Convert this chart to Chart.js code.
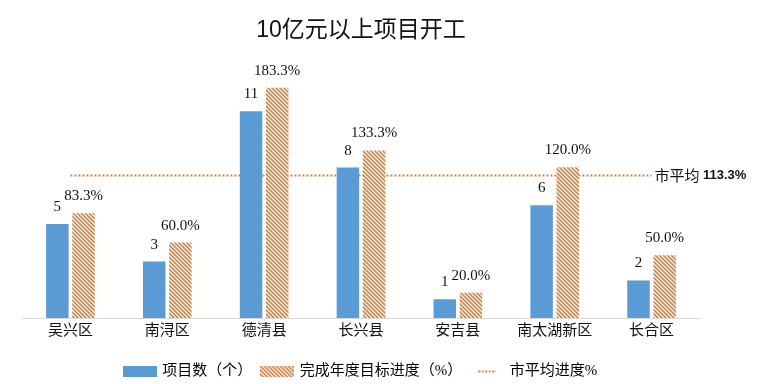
<!DOCTYPE html>
<html>
<head>
<meta charset="utf-8">
<script src="https://cdn.jsdelivr.net/npm/chart.js@4"></script>
<style>
  body { margin: 0; background: #fff; }
  #wrap { width: 768px; height: 384px; }
</style>
</head>
<body>
<div id="wrap"><canvas id="bar-chart"></canvas></div>
<script>
const categories = ["吴兴区", "南浔区", "德清县", "长兴县", "安吉县", "南太湖新区", "长合区"];
const projectCounts = [5, 3, 11, 8, 1, 6, 2];
const progressPct = [83.3, 60.0, 183.3, 133.3, 20.0, 120.0, 50.0];
const cityAverage = 113.3;

const BLUE = "#5B9BD5";
const ORANGE = "#D9823F";
const SERIF = "'Liberation Serif', 'Noto Sans CJK SC'";

// diagonal hatch, stripes running top-left to bottom-right
function makeHatch() {
  const c = document.createElement("canvas");
  c.width = 4; c.height = 4;
  const g = c.getContext("2d");
  g.fillStyle = "#fff";
  g.fillRect(0, 0, 4, 4);
  g.strokeStyle = ORANGE;
  g.lineWidth = 1.6;
  g.beginPath();
  g.moveTo(-1, -1); g.lineTo(5, 5);
  g.moveTo(-1, 3); g.lineTo(1, 5);
  g.moveTo(3, -1); g.lineTo(5, 1);
  g.stroke();
  return g.createPattern(c, "repeat");
}
const hatch = makeHatch();

function legendIcon(kind) {
  const c = document.createElement("canvas");
  c.width = 34; c.height = 11;
  const g = c.getContext("2d");
  if (kind === "bar") {
    g.fillStyle = BLUE;
    g.fillRect(0, 0, 34, 11);
  } else if (kind === "hatch") {
    g.fillStyle = hatch;
    g.fillRect(0, 0, 34, 11);
  } else {
    g.strokeStyle = ORANGE;
    g.lineWidth = 2;
    g.setLineDash([2, 1.5]);
    g.beginPath();
    g.moveTo(8, 5.5); g.lineTo(26, 5.5);
    g.stroke();
  }
  return c;
}

const valueLabels = {
  id: "valueLabels",
  afterDatasetsDraw(chart) {
    const ctx = chart.ctx;
    ctx.save();
    ctx.font = "15px " + SERIF;
    ctx.fillStyle = "#111";
    ctx.textAlign = "center";
    ctx.textBaseline = "middle";
    chart.getDatasetMeta(0).data.forEach((bar, i) => {
      ctx.fillText(String(projectCounts[i]), bar.x, bar.y - 17);
    });
    chart.getDatasetMeta(1).data.forEach((bar, i) => {
      ctx.fillText(progressPct[i].toFixed(1) + "%", bar.x, bar.y - 17);
    });
    const pts = chart.getDatasetMeta(2).data;
    const last = pts[pts.length - 1];
    ctx.textAlign = "left";
    ctx.font = "15px 'Noto Sans CJK SC'";
    const lead = "市平均 ";
    ctx.fillText(lead, last.x + 3, last.y);
    const w = ctx.measureText(lead).width;
    ctx.font = "bold 13px 'Liberation Sans'";
    ctx.fillText(cityAverage.toFixed(1) + "%", last.x + 3 + w, last.y);
    ctx.restore();
  }
};

new Chart(document.getElementById("bar-chart"), {
  type: "bar",
  data: {
    labels: categories,
    datasets: [
      {
        label: "项目数（个）",
        data: projectCounts,
        backgroundColor: BLUE,
        yAxisID: "y",
        categoryPercentage: 0.54,
        barPercentage: 0.86
      },
      {
        label: "完成年度目标进度（%）",
        data: progressPct,
        backgroundColor: hatch,
        yAxisID: "y1",
        categoryPercentage: 0.54,
        barPercentage: 0.86
      },
      {
        type: "line",
        label: "市平均进度%",
        data: categories.map(() => cityAverage),
        borderColor: ORANGE,
        borderWidth: 2,
        borderDash: [2, 2],
        pointRadius: 0,
        fill: false,
        yAxisID: "y1"
      }
    ]
  },
  options: {
    responsive: true,
    maintainAspectRatio: false,
    animation: false,
    layout: { padding: { left: 22, right: 68, top: 0, bottom: -5 } },
    scales: {
      x: {
        grid: { display: false, drawTicks: false },
        border: { color: "#D9D9D9" },
        ticks: { color: "#111", font: { family: SERIF, size: 15 }, padding: 4 },
        afterFit: (scale) => { scale.height += 10; }
      },
      y: { display: false, min: 0, max: 13.8 },
      y1: { display: false, min: 0, max: 206.4 }
    },
    plugins: {
      title: {
        display: true,
        text: "10亿元以上项目开工",
        color: "#111",
        font: { family: "'Liberation Sans', 'Noto Sans CJK SC'", size: 23, weight: "normal" },
        padding: { top: 17, bottom: 14 }
      },
      legend: {
        position: "bottom",
        labels: {
          usePointStyle: true,
          pointStyleWidth: 30,
          color: "#111",
          font: { family: SERIF, size: 15 },
          padding: 10,
          generateLabels: (chart) => chart.data.datasets.map((ds, i) => ({
            text: ds.label,
            pointStyle: legendIcon(i === 0 ? "bar" : i === 1 ? "hatch" : "line"),
            fillStyle: "transparent",
            strokeStyle: "transparent",
            lineWidth: 0,
            hidden: false,
            datasetIndex: i
          }))
        }
      },
      tooltip: { enabled: false }
    }
  },
  plugins: [valueLabels]
});
</script>
</body>
</html>
